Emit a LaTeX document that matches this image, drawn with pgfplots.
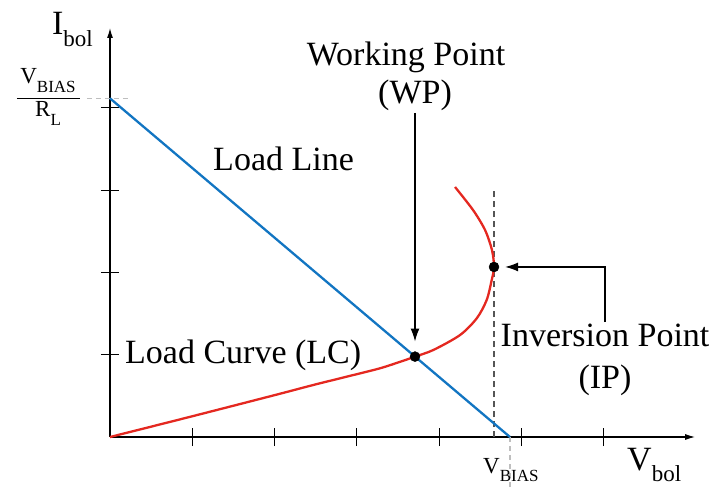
\documentclass[border=0pt]{standalone}
\usepackage{pgfplots}
\pgfplotsset{compat=1.18}
\usetikzlibrary{arrows.meta}
\usepackage{fontspec}
\setmainfont{Liberation Serif}

\definecolor{llblue}{RGB}{18,117,194}
\definecolor{lcred}{RGB}{228,40,32}
\definecolor{dashgray}{RGB}{85,85,85}
\definecolor{lightdash}{RGB}{190,190,190}

% main text with a lowered, smaller suffix
\newcommand{\sbs}[4]{#1\raisebox{-#4}{\fontsize{#3}{#3}\selectfont #2}}
\newcommand{\largetxt}{\fontsize{34}{38}\selectfont}
\newcommand{\midtxt}{\fontsize{23}{26}\selectfont}

\begin{document}
\begin{tikzpicture}
\begin{axis}[
  at={(0,0)}, anchor=south west,
  scale only axis,
  width=585.15pt, height=409.03pt,
  xmin=0, xmax=7.11, ymin=0, ymax=4.97,
  axis lines=left,
  axis line style={line width=1.2pt, black},
  x axis line style={-{Latex[length=10pt,width=6pt]}},
  y axis line style={-{Latex[length=10pt,width=6pt]}},
  xtick={1,2,3,4,5,6}, ytick={1,2,3,4},
  xticklabels={}, yticklabels={},
  tick align=center,
  major tick length=18pt,
  tick style={line width=1.1pt, black},
  clip=false,
]
% auxiliary dashed guides
\draw[lightdash, line width=1.2pt, dash pattern=on 5pt off 4pt]
  (axis cs:-0.28,4.115) -- (axis cs:0.22,4.115);
\draw[lightdash, line width=1.2pt, dash pattern=on 5pt off 4pt]
  (axis cs:4.86,0) -- (axis cs:4.86,-0.64);
\draw[dashgray, line width=1.8pt, dash pattern=on 6pt off 4pt]
  (axis cs:4.666,0) -- (axis cs:4.666,3.01);

% load line
\addplot[llblue, line width=2.3pt] coordinates {(0,4.115) (4.86,0)};

% load curve
\addplot[lcred, line width=2.3pt, smooth, tension=0.5] coordinates {
  (0,0) (0.972,0.245) (2.005,0.51) (2.470,0.632) (2.876,0.733)
  (3.281,0.835) (3.564,0.927) (3.706,0.977)
  (3.928,1.057) (4.253,1.239) (4.456,1.442) (4.577,1.665) (4.638,1.908)
  (4.666,2.066) (4.641,2.272) (4.557,2.515) (4.411,2.758) (4.192,3.038)};

% working point and inversion point
\addplot[only marks, mark=*, mark size=5pt, black] coordinates {(3.706,0.977) (4.666,2.066)};

% annotation arrows
\draw[line width=1.4pt, -{Latex[length=13pt,width=9pt]}]
  (axis cs:3.706,3.937) -- (axis cs:3.706,1.16);
\draw[line width=1.4pt, -{Latex[length=13pt,width=9pt]}]
  (axis cs:6.015,1.397) -- (axis cs:6.015,2.066) -- (axis cs:4.80,2.066);

% labels
\node[anchor=base] at (axis cs:3.597,4.520) {\largetxt Working Point};
\node[anchor=base] at (axis cs:3.706,4.058) {\largetxt (WP)};
\node[anchor=base west, inner sep=0pt] at (axis cs:1.252,3.244) {\largetxt Load Line};
\node[anchor=base west, inner sep=0pt] at (axis cs:0.182,0.899) {\largetxt Load Curve (LC)};
\node[anchor=base] at (axis cs:6.015,1.094) {\largetxt Inversion Point};
\node[anchor=base] at (axis cs:6.015,0.595) {\largetxt (IP)};

% axis names
\node[anchor=base west, inner sep=0pt] at (axis cs:-0.705,4.885) {\largetxt \sbs{I}{bol}{23}{12pt}};
\node[anchor=base west, inner sep=0pt] at (axis cs:6.282,-0.41) {\largetxt \sbs{V}{bol}{23}{11pt}};
\node[anchor=base west, inner sep=0pt] at (axis cs:4.532,-0.44) {\midtxt \sbs{V}{BIAS}{17}{8pt}};

% V_BIAS / R_L
\draw[black, line width=1.2pt] (axis cs:-1.13,4.115) -- (axis cs:-0.364,4.115);
\node[anchor=base, inner sep=0pt] at (axis cs:-0.753,4.30) {\midtxt \sbs{V}{BIAS}{17}{9pt}};
\node[anchor=base, inner sep=0pt] at (axis cs:-0.753,3.89) {\midtxt \sbs{R}{L}{17}{9pt}};
\end{axis}
\pgfresetboundingbox
\useasboundingbox (-110pt,-51pt) rectangle (604pt,437pt);
\end{tikzpicture}
\end{document}
